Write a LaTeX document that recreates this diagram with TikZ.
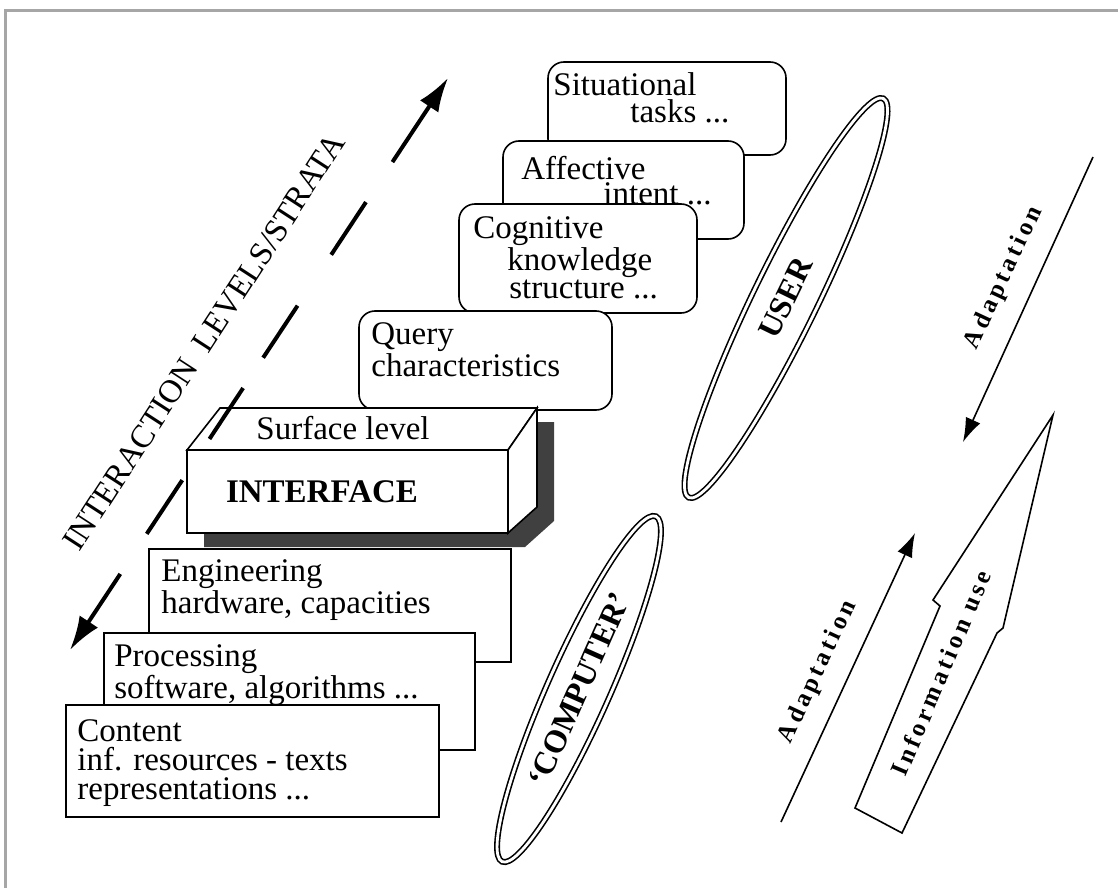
\documentclass[tikz,border=0pt]{standalone}
\usepackage{fontspec}
\setmainfont{Liberation Serif}
\newfontfamily\trackfont[LetterSpace=15]{Liberation Serif}
\usetikzlibrary{shapes.geometric,arrows.meta,calc}

\tikzset{
  layer/.style={draw, line width=0.8pt, fill=white, anchor=north west,
    inner sep=0pt, outer sep=0pt},
  userlayer/.style={layer, rounded corners=8pt},
  layertext/.style={anchor=north west, inner sep=0pt, align=left},
  agent/.style={ellipse, draw, line width=0.8pt, double, double distance=1.4pt,
    inner sep=0pt, font=\bfseries\fontsize{16}{16}\selectfont},
  flow/.style={line width=0.8pt, -{Latex[length=12pt,width=8pt]}},
  flowlabel/.style={inner sep=0pt, font=\trackfont\bfseries\fontsize{12.5}{12.5}\selectfont},
  strata/.style={line width=2pt},
  stratatip/.style={strata, -{Latex[length=17pt,width=11pt]}},
}

\begin{document}
\begin{tikzpicture}[x=0.5pt, y=-0.5pt]

    \useasboundingbox (0,0) rectangle (1118,888);
    \draw[gray!70, line width=1.5pt] (5,888) -- (5,11) -- (1118,11);

    % user side
    \node[userlayer, minimum width=119pt, minimum height=46.5pt] (sit) at (548,62) {};
    \node[layertext, font=\fontsize{16.5}{13.5}\selectfont] (sit-t) at (553,72)
      {Situational\\\hspace*{38.5pt}tasks ...};
    \node[userlayer, minimum width=120.5pt, minimum height=49pt] (aff) at (503,141) {};
    \node[layertext, font=\fontsize{16.5}{12.5}\selectfont] (aff-t) at (521,156)
      {Affective\\\hspace*{41pt}intent ...};
    \node[userlayer, minimum width=119pt, minimum height=54.5pt] (cog) at (459,204) {};
    \node[layertext, font=\fontsize{16.5}{14}\selectfont] (cog-t) at (473,216)
      {Cognitive\\\hspace*{17pt}knowledge\\\hspace*{18pt}structure ...};
    \node[userlayer, minimum width=126.5pt, minimum height=49.5pt] (query) at (359,311) {};
    \node[layertext, font=\fontsize{16.5}{12.5}\selectfont] (query-t) at (371,322)
      {Query\\characteristics};

    % interface block
    \fill[black!75] (204,464) -- (237,422) -- (554,422) -- (554,521) -- (525,547) -- (204,547) -- cycle;
    \node[layer, minimum width=160.5pt, minimum height=41.5pt] (iface) at (187,450) {};
    \draw[line width=0.8pt, fill=white] (iface.north west) -- ++(33,-42) -- ++(317,0)
      -- (iface.north east) -- cycle;
    \draw[line width=0.8pt, fill=white] (iface.north east) -- ++(29,-42) -- ++(0,99)
      -- (iface.south east) -- cycle;
    \node[font=\fontsize{16.5}{16}\selectfont] (surface) at (343,428) {Surface level};
    \node[font=\bfseries\fontsize{16.5}{16}\selectfont] (iface-t) at (322,492) {INTERFACE};

    % computer side
    \node[layer, minimum width=181pt, minimum height=56.5pt] (eng) at (149,549) {};
    \node[layertext, font=\fontsize{16.5}{15}\selectfont] (eng-t) at (161,559)
      {Engineering\\hardware, capacities};
    \node[layer, minimum width=185.5pt, minimum height=58.5pt] (proc) at (104,633) {};
    \node[layertext, font=\fontsize{16.5}{12.5}\selectfont] (proc-t) at (114,644)
      {Processing\\software, algorithms ...};
    \node[layer, minimum width=186.5pt, minimum height=56pt] (cont) at (66,705) {};
    \node[layertext, font=\fontsize{16.5}{14.5}\selectfont] (cont-t) at (77,719)
      {Content\\inf. resources - texts\\representations ...};

    \node[agent, rotate=64, minimum width=222pt, minimum height=32pt] (user) at (786,298) {USER};
    \node[agent, rotate=66, minimum width=189pt, minimum height=31pt] (computer) at (579,689) {`COMPUTER'};

    % adaptation and use
    \coordinate (adown-s) at (1093,157);
    \coordinate (adown-e) at (963,442);
    \draw[flow] (adown-s) -- (adown-e);
    \node[flowlabel, rotate=65] (adown-l) at (1004,278) {Adaptation};

    \coordinate (aup-s) at (781,822);
    \coordinate (aup-e) at (915,533);
    \draw[flow] (aup-s) -- (aup-e);
    \node[flowlabel, rotate=65] (aup-l) at (818,672) {Adaptation};

    \draw[line width=0.8pt, fill=white] (1053,415) -- (933,600) -- (940,606) -- (855,808)
      -- (902,833) -- (997,633) -- (1003,628) -- cycle;
    \node[flowlabel, rotate=67] (use-l) at (941,673) {Information use};

    % strata axis
    \coordinate (lo) at (70,650);
    \coordinate (hi) at (448,78);
    \draw[stratatip] ($(lo)!0.133!(hi)$) -- (lo);
    \draw[stratatip] ($(lo)!0.853!(hi)$) -- (hi);
    \foreach \a/\b in {0.203/0.297, 0.369/0.458, 0.511/0.602, 0.691/0.783} {
      \draw[strata] ($(lo)!\a!(hi)$) -- ($(lo)!\b!(hi)$);
    }
    \node[inner sep=0pt, rotate=57, font=\fontsize{16.4}{16}\selectfont] (strata-l) at (204,342)
      {INTERACTION\ \ LEVELS/STRATA};

\end{tikzpicture}
\end{document}
